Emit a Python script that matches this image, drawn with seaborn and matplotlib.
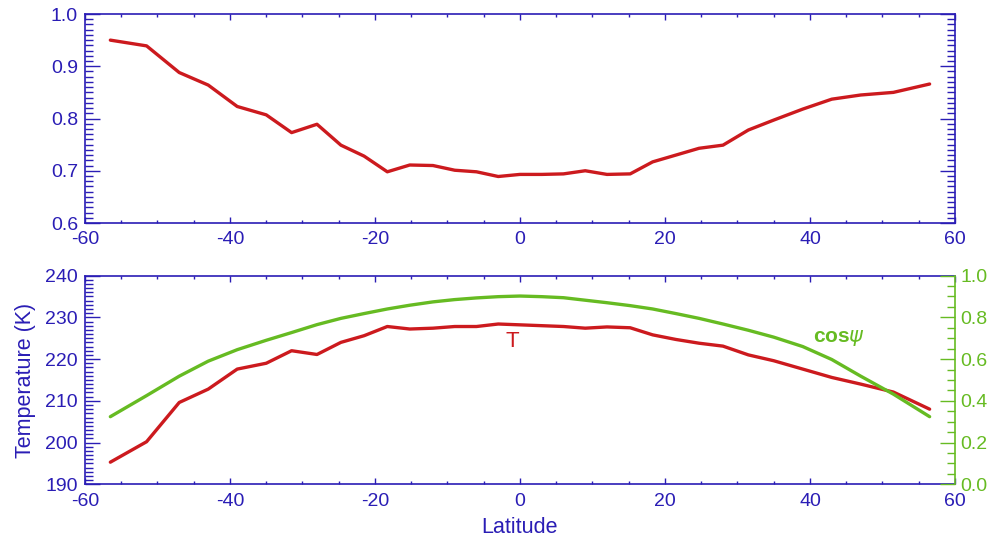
import matplotlib
matplotlib.use('Agg')
import matplotlib.pyplot as plt
import seaborn as sns
import pandas as pd
from matplotlib.ticker import MultipleLocator

# ---- data ----
latitude = [-56.5, -51.5, -47, -43, -39, -35, -31.5, -28, -24.7, -21.5, -18.3,
            -15.2, -12, -9, -6, -3, 0, 3, 6, 9, 12, 15.2, 18.3, 21.5, 24.7,
            28, 31.5, 35, 39, 43, 47, 51.5, 56.5]
top_values = [0.950, 0.939, 0.888, 0.864, 0.823, 0.807, 0.773, 0.789, 0.749,
              0.728, 0.698, 0.711, 0.710, 0.701, 0.698, 0.689, 0.693, 0.693,
              0.694, 0.700, 0.693, 0.694, 0.717, 0.730, 0.743, 0.749, 0.778,
              0.797, 0.818, 0.837, 0.845, 0.850, 0.866]
temperature = [195.3, 200.2, 209.6, 212.8, 217.6, 219.0, 222.0, 221.1, 224.0,
               225.6, 227.8, 227.2, 227.4, 227.8, 227.8, 228.4, 228.2, 228.0,
               227.8, 227.4, 227.7, 227.5, 225.8, 224.7, 223.8, 223.1, 221.0,
               219.6, 217.6, 215.6, 214.0, 212.1, 208.0]
cos_psi = [0.324, 0.425, 0.518, 0.590, 0.645, 0.690, 0.727, 0.765, 0.795,
           0.818, 0.840, 0.858, 0.874, 0.885, 0.893, 0.899, 0.902, 0.899,
           0.894, 0.882, 0.870, 0.856, 0.840, 0.818, 0.795, 0.768, 0.738,
           0.705, 0.660, 0.598, 0.518, 0.432, 0.324]
x_ticks = [-60, -40, -20, 0, 20, 40, 60]
top_yticks = [0.6, 0.7, 0.8, 0.9, 1.0]
temp_yticks = [190, 200, 210, 220, 230, 240]
cos_yticks = [0.0, 0.2, 0.4, 0.6, 0.8, 1.0]

df = pd.DataFrame({'lat': latitude, 'top': top_values, 'T': temperature, 'cos': cos_psi})

sns.set_style('ticks')
plt.rcParams['font.family'] = ['Liberation Sans', 'DejaVu Sans']

BLUE = '#2a1db5'
RED = '#cc1a1e'
GREEN = '#66bb22'
FS = 14

fig = plt.figure(figsize=(9.88, 5.41), dpi=100)
ax1 = fig.add_axes([0.0860, 0.5878, 0.8806, 0.3863])
ax2 = fig.add_axes([0.0860, 0.1048, 0.8806, 0.3858])
ax3 = ax2.twinx()

sns.lineplot(data=df, x='lat', y='top', ax=ax1, color=RED, lw=2.4)
sns.lineplot(data=df, x='lat', y='T', ax=ax2, color=RED, lw=2.4)
sns.lineplot(data=df, x='lat', y='cos', ax=ax3, color=GREEN, lw=2.4)

for ax in (ax1, ax2):
    ax.set_xlim(-60, 60)
    ax.set_xticks(x_ticks)
    ax.set_xticklabels([str(t) for t in x_ticks])
    ax.xaxis.set_minor_locator(MultipleLocator(5))
    for s in ax.spines.values():
        s.set_color(BLUE)
        s.set_linewidth(1.2)
    ax.tick_params(axis='x', which='both', direction='in', top=True, bottom=True,
                   colors=BLUE, labelsize=FS, pad=6)
    ax.tick_params(axis='x', which='major', length=4, width=1)
    ax.tick_params(axis='x', which='minor', length=2.5, width=1)
    ax.tick_params(axis='y', which='both', direction='in', colors=BLUE,
                   labelsize=FS, pad=5, width=1)
    ax.tick_params(axis='y', which='major', length=11)
    ax.tick_params(axis='y', which='minor', length=6)
    ax.set_ylabel('')
    ax.set_xlabel('')

ax1.set_ylim(0.6, 1.0)
ax1.set_yticks(top_yticks)
ax1.set_yticklabels([f'{v:.1f}' for v in top_yticks])
ax1.yaxis.set_minor_locator(MultipleLocator(0.01))
ax1.tick_params(axis='y', which='both', right=True, left=True)

ax2.set_ylim(190, 240)
ax2.set_yticks(temp_yticks)
ax2.set_yticklabels([str(v) for v in temp_yticks])
ax2.yaxis.set_minor_locator(MultipleLocator(1))
ax2.tick_params(axis='y', which='both', right=False, left=True)
ax2.spines['right'].set_visible(False)
ax2.set_ylabel('Temperature (K)', color=BLUE, fontsize=15.5, labelpad=7)
ax2.set_xlabel('Latitude', color=BLUE, fontsize=15.5, labelpad=5)

ax3.set_ylim(0.0, 1.0)
ax3.set_yticks(cos_yticks)
ax3.set_yticklabels([f'{v:.1f}' for v in cos_yticks])
ax3.yaxis.set_minor_locator(MultipleLocator(0.05))
for k in ('left', 'top', 'bottom'):
    ax3.spines[k].set_visible(False)
ax3.spines['right'].set_color(GREEN)
ax3.spines['right'].set_linewidth(1.2)
ax3.tick_params(axis='y', which='both', direction='in', colors=GREEN,
                labelsize=FS, pad=4, width=1)
ax3.tick_params(axis='y', which='major', length=11)
ax3.tick_params(axis='y', which='minor', length=6)
ax3.set_ylabel('')

ax2.text(-1.1, 224.1, 'T', color=RED, fontsize=16, ha='center', va='center')
ax3.text(44.0, 0.70, r'cos$\psi$', color=GREEN, fontsize=15, fontweight='bold',
         ha='center', va='center')

fig.savefig('out.png', dpi=100)
